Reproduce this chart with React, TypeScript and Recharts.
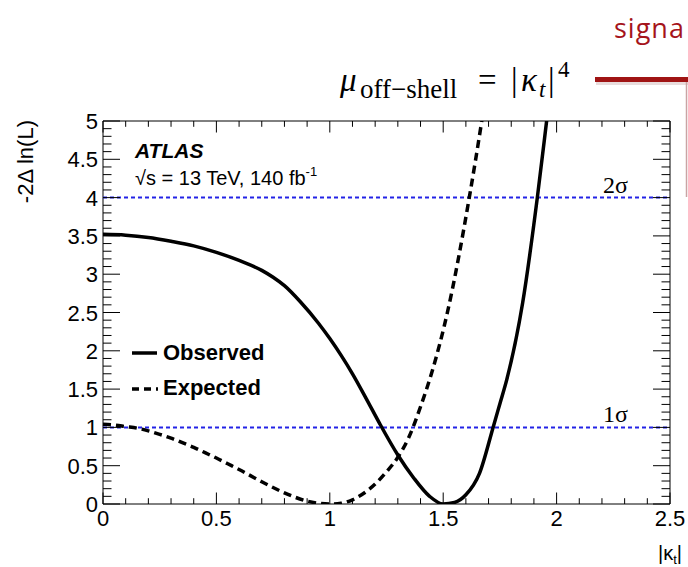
import { LineChart, Line, XAxis, YAxis, ReferenceLine, ReferenceArea } from 'recharts';

// |kappa_t| scan, -2 Delta ln(L)
const obsK = [0, 0.1, 0.2, 0.3, 0.4, 0.5, 0.6, 0.7, 0.75, 0.8, 0.87, 0.95, 1.0, 1.05, 1.1, 1.16, 1.22, 1.3, 1.37, 1.44, 1.5, 1.55, 1.6, 1.66, 1.72, 1.75, 1.78, 1.85, 1.915, 1.956, 2.0];
const obsV = [3.52, 3.51, 3.48, 3.43, 3.37, 3.285, 3.18, 3.05, 2.96, 2.85, 2.64, 2.36, 2.16, 1.94, 1.7, 1.38, 1.05, 0.64, 0.34, 0.1, 0.0, 0.02, 0.12, 0.4, 1.0, 1.31, 1.62, 2.62, 4.0, 5.0, 6.1];

const expK = [0, 0.05, 0.1, 0.15, 0.2, 0.25, 0.3, 0.35, 0.4, 0.45, 0.5, 0.55, 0.6, 0.65, 0.7, 0.75, 0.8, 0.85, 0.9, 0.95, 1.0, 1.05, 1.1, 1.15, 1.2, 1.25, 1.3, 1.35, 1.4, 1.45, 1.52, 1.615, 1.67, 1.72];
const expV = [1.04, 1.03, 1.01, 0.99, 0.955, 0.91, 0.86, 0.8, 0.74, 0.67, 0.6, 0.525, 0.45, 0.37, 0.29, 0.215, 0.145, 0.085, 0.038, 0.01, 0.0, 0.01, 0.055, 0.14, 0.26, 0.42, 0.61, 0.88, 1.27, 1.72, 2.52, 4.0, 5.0, 6.0];

const xMajor = [0, 0.5, 1, 1.5, 2, 2.5];
const yMajor = [0, 0.5, 1, 1.5, 2, 2.5, 3, 3.5, 4, 4.5, 5];
const sigmaLevels = [
    { y: 1, label: '1σ' },
    { y: 4, label: '2σ' },
];

const xTicks = Array.from({ length: 26 }, (_, i) => i / 10);
const yTicks = Array.from({ length: 51 }, (_, i) => i / 10);

const obsData = obsK.map((k, i) => ({ k, v: obsV[i] }));
const expData = expK.map((k, i) => ({ k, v: expV[i] }));

const W = 688;
const H = 567;
const PLOT_L = 103;
const PLOT_R = 670;
const PLOT_T = 121;
const PLOT_B = 504;
const PLOT_W = PLOT_R - PLOT_L;
const PLOT_H = PLOT_B - PLOT_T;

const SANS = '"Liberation Sans", Arial, Helvetica, sans-serif';
const SERIF = '"Liberation Serif", "Times New Roman", serif';
const BLUE = '#2323e6';

const isOn = (v: number, step: number) => Math.abs(v / step - Math.round(v / step)) < 1e-6;

function XTick(props: any) {
    const { x, y, payload } = props;
    const v = payload.value as number;
    const major = isOn(v, 0.5);
    const len = major ? 11.5 : 5.8;
    return (
        <g>
            <line x1={x} x2={x} y1={y} y2={y - len} stroke="#000" strokeWidth={1} />
            <line x1={x} x2={x} y1={y - PLOT_H} y2={y - PLOT_H + len} stroke="#000" strokeWidth={1} />
            {major && xMajor.some((m) => Math.abs(m - v) < 1e-6) ? (
                <text x={x} y={y + 22} textAnchor="middle" fontSize={22} fontFamily={SANS} fill="#000">
                    {String(v)}
                </text>
            ) : null}
        </g>
    );
}

function YTick(props: any) {
    const { x, y, payload } = props;
    const v = payload.value as number;
    const major = isOn(v, 0.5);
    const len = major ? 17 : 8.5;
    return (
        <g>
            <line x1={x} x2={x + len} y1={y} y2={y} stroke="#000" strokeWidth={1} />
            <line x1={x + PLOT_W} x2={x + PLOT_W - len} y1={y} y2={y} stroke="#000" strokeWidth={1} />
            {major && yMajor.some((m) => Math.abs(m - v) < 1e-6) ? (
                <text x={x - 5} y={y + 8} textAnchor="end" fontSize={22} fontFamily={SANS} fill="#000">
                    {String(v)}
                </text>
            ) : null}
        </g>
    );
}

function sigmaLabel(text: string) {
    return (p: any) => {
        const vb = p.viewBox || {};
        return (
            <text
                x={vb.x + vb.width - 42}
                y={vb.y - 5}
                textAnchor="end"
                fontSize={24}
                fontFamily={SERIF}
                fill="#000"
            >
                {text}
            </text>
        );
    };
}

function Overlay() {
    return (
        <svg
            width={W}
            height={H}
            style={{ position: 'absolute', left: 0, top: 0, pointerEvents: 'none' }}
        >
            {/* slide annotation */}
            <text x={614} y={38} fontSize={27} fontFamily='"Open Sans", "Noto Sans", sans-serif' fill="#a5141b" letterSpacing={1}>
                signa
            </text>
            <text x={340} y={91} fontSize={33} fontFamily={SERIF} fontStyle="italic" fill="#000">
                μ
            </text>
            <text x={360} y={98} fontSize={27} fontFamily={SERIF} fill="#000">
                off−shell
            </text>
            <text x={478} y={91} fontSize={33} fontFamily={SERIF} fill="#000">
                =
            </text>
            <text y={91} fontSize={33} fontFamily={SERIF} fill="#000">
                <tspan x={511}>|</tspan>
                <tspan x={521} fontStyle="italic">κ</tspan>
                <tspan x={539} dy={6} fontSize={23} fontStyle="italic">t</tspan>
                <tspan x={548} dy={-6}>|</tspan>
                <tspan x={558} dy={-14} fontSize={23}>4</tspan>
            </text>
            <rect x={596} y={80} width={92} height={5} fill="#d9c4c4" opacity={0.6} />
            <rect x={595} y={77} width={93} height={5} fill="#a01414" />
            <line x1={686.5} x2={686.5} y1={82} y2={197} stroke="#c9a4a4" strokeWidth={1.5} />

            {/* axis titles */}
            <text
                x={33}
                y={120}
                transform="rotate(-90, 33, 120)"
                textAnchor="end"
                fontSize={22}
                fontFamily={SANS}
                fill="#000"
            >
                -2Δ ln(L)
            </text>
            <text x={682} y={560} textAnchor="end" fontSize={20} fontFamily={SANS} fill="#000">
                |κ<tspan fontSize={13} dy={4}>t</tspan>
                <tspan dy={-4}>|</tspan>
            </text>

            {/* ATLAS label */}
            <text x={135} y={158} fontSize={21} fontWeight="bold" fontStyle="italic" fontFamily={SANS} fill="#000">
                ATLAS
            </text>
            <text x={135} y={185} fontSize={20} fontFamily={SANS} fill="#000">
                √s = 13 TeV, 140 fb<tspan fontSize={13} dy={-9}>-1</tspan>
            </text>

            {/* legend */}
            <line x1={132} x2={157} y1={353} y2={353} stroke="#000" strokeWidth={3.5} />
            <text x={163} y={360} fontSize={22} fontWeight="bold" fontFamily={SANS} fill="#000">
                Observed
            </text>
            <line x1={132} x2={158} y1={389} y2={389} stroke="#000" strokeWidth={3.5} strokeDasharray="7 5" />
            <text x={163} y={395} fontSize={22} fontWeight="bold" fontFamily={SANS} fill="#000">
                Expected
            </text>
        </svg>
    );
}

export default function App() {
    return (
        <div style={{ position: 'absolute', left: 0, top: 0, width: W, height: H, background: '#fff' }}>
            <LineChart
                width={W}
                height={H}
                margin={{ top: PLOT_T, right: W - PLOT_R, bottom: H - PLOT_B - 40, left: PLOT_L - 60 }}
            >
                <XAxis
                    dataKey="k"
                    type="number"
                    domain={[0, 2.5]}
                    ticks={xTicks}
                    interval={0}
                    height={40}
                    tickSize={0}
                    tickMargin={0}
                    axisLine={false}
                    tickLine={false}
                    tick={XTick}
                    allowDecimals
                />
                <YAxis
                    type="number"
                    domain={[0, 5]}
                    ticks={yTicks}
                    interval={0}
                    width={60}
                    tickSize={0}
                    tickMargin={0}
                    axisLine={false}
                    tickLine={false}
                    tick={YTick}
                    allowDataOverflow
                />
                <ReferenceArea x1={0} x2={2.5} y1={0} y2={5} fill="none" stroke="#000" strokeWidth={1} />
                {sigmaLevels.map((s) => (
                    <ReferenceLine
                        key={s.label}
                        y={s.y}
                        stroke={BLUE}
                        strokeWidth={2}
                        strokeDasharray="4 3"
                        label={sigmaLabel(s.label)}
                    />
                ))}
                <Line
                    data={expData}
                    dataKey="v"
                    type="monotone"
                    stroke="#000"
                    strokeWidth={3.5}
                    strokeDasharray="8 5"
                    dot={false}
                    activeDot={false}
                    isAnimationActive={false}
                />
                <Line
                    data={obsData}
                    dataKey="v"
                    type="monotone"
                    stroke="#000"
                    strokeWidth={3.5}
                    dot={false}
                    activeDot={false}
                    isAnimationActive={false}
                />
            </LineChart>
            <Overlay />
        </div>
    );
}
